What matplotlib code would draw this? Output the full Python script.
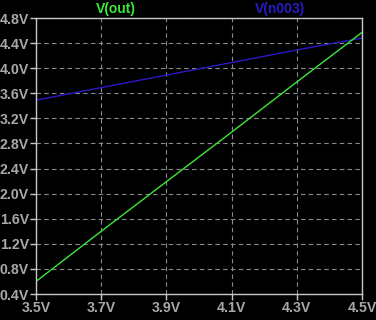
"""
LTspice-style DC sweep plot: V(out) and V(n003) vs input voltage
"""

import matplotlib
matplotlib.use("Agg")
import matplotlib.pyplot as plt
from matplotlib.ticker import FuncFormatter

# sweep points (V)
vin = [3.5, 3.7, 3.9, 4.1, 4.3, 4.5]
v_out = [0.60, 1.40, 2.19, 2.98, 3.78, 4.57]
v_n003 = [3.49, 3.69, 3.89, 4.09, 4.29, 4.48]

x_ticks = [3.5, 3.7, 3.9, 4.1, 4.3, 4.5]
y_ticks = [0.4, 0.8, 1.2, 1.6, 2.0, 2.4, 2.8, 3.2, 3.6, 4.0, 4.4, 4.8]

GREEN = "#3ae83a"
BLUE = "#2a1ac8"
GRAY = "#a8a8a8"
FONT = "Liberation Sans"


def main():
    fig = plt.figure(figsize=(3.76, 3.20), dpi=100, facecolor="black")
    ax = fig.add_axes([36 / 376, 26 / 320, 326 / 376, 276 / 320])
    ax.set_facecolor("black")

    ax.plot(vin, v_n003, color=BLUE, lw=1.0)
    ax.plot(vin, v_out, color=GREEN, lw=1.0)

    ax.set_xlim(3.5, 4.5)
    ax.set_ylim(0.4, 4.8)
    ax.set_xticks(x_ticks)
    ax.set_yticks(y_ticks)
    fmt = FuncFormatter(lambda v, _: f"{v:.1f}V")
    ax.xaxis.set_major_formatter(fmt)
    ax.yaxis.set_major_formatter(fmt)

    ax.grid(True, color="#8a8a8a", linestyle=(0, (4, 3)), lw=0.8)
    for s in ax.spines.values():
        s.set_color("#c8c8c8")
        s.set_linewidth(1.0)
    ax.tick_params(colors="#c8c8c8", length=4, width=1.0, pad=1)
    for lbl in ax.get_xticklabels() + ax.get_yticklabels():
        lbl.set_color(GRAY)
        lbl.set_fontfamily(FONT)
        lbl.set_fontweight("bold")
        lbl.set_fontsize(10.2)

    fig.text(116 / 376, 1 - 9 / 320, "V(out)", color=GREEN, ha="center", va="center",
             family=FONT, fontweight="bold", fontsize=10)
    fig.text(280 / 376, 1 - 9 / 320, "V(n003)", color=BLUE, ha="center", va="center",
             family=FONT, fontweight="bold", fontsize=10)

    fig.savefig("out.png", facecolor="black")
    plt.close(fig)


if __name__ == "__main__":
    main()
